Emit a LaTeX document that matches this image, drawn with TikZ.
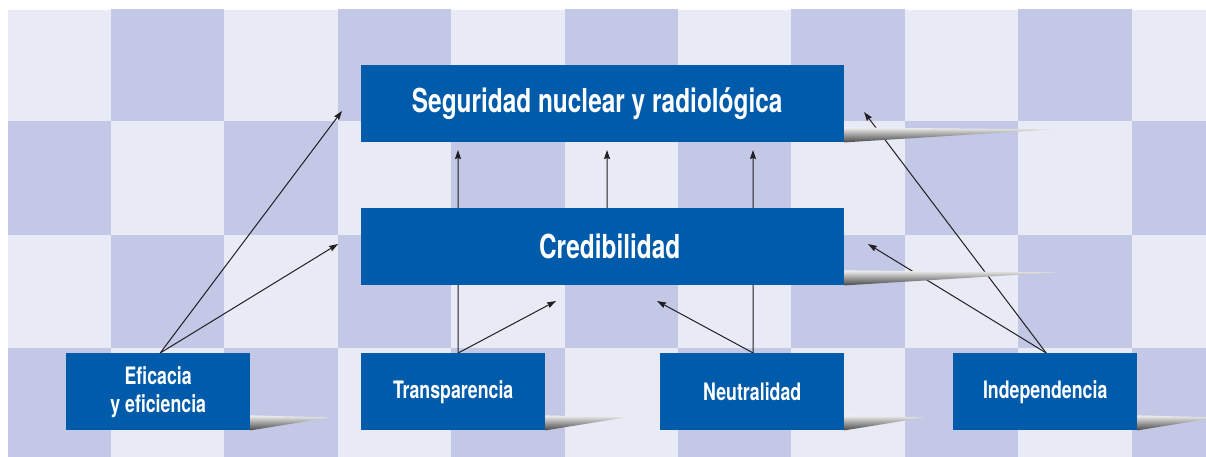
\documentclass[tikz,border=0pt]{standalone}
\usepackage{fontspec}
\setmainfont{TeX Gyre Heros}[FakeStretch=0.74]
\usetikzlibrary{arrows.meta}
\definecolor{cblue}{HTML}{005BAA}
\definecolor{cellA}{HTML}{E8EAF6}
\definecolor{cellB}{HTML}{C2C8E6}
\definecolor{lineblack}{HTML}{231F20}
\pgfdeclarelayer{board}
\pgfdeclarelayer{links}
\pgfsetlayers{board,links,main}
\newcommand\boxwedge[2]{\shade[wedge] (#1.south east) -- ++(0,-15) -- ++(#2,2) -- cycle;}
\begin{document}
\begin{tikzpicture}[x=1pt,y=-1pt,
  box/.style={fill=cblue, text=white, inner sep=0pt, anchor=north west, align=center},
  bigbox/.style={box, minimum width=483pt, minimum height=77pt, font=\fontsize{33}{38}\selectfont\bfseries},
  smallbox/.style={box, minimum width=184pt, minimum height=77pt, font=\fontsize{24}{28}\selectfont\bfseries},
  link/.style={draw=lineblack, line width=1pt, -{Stealth[length=9pt,width=6pt,inset=1pt]}},
  wedge/.style={top color=gray!12, bottom color=black!72, draw=none}]
\useasboundingbox (0,0) rectangle (1206,457);
% checkerboard
\begin{pgfonlayer}{board}
\begin{scope}
  \clip (8,10) rectangle (1206,457);
  \fill[cellA] (8,10) rectangle (1206,457);
  \foreach \i in {0,...,10} {
    \foreach \j in {0,...,3} {
      \pgfmathtruncatemacro\cellpar{mod(\i+\j,2)}
      \ifnum\cellpar=1
        \fill[cellB] ({-2.4+113.4*\i},{7.5+113.5*\j}) rectangle ({-2.4+113.4*(\i+1)},{7.5+113.5*(\j+1)});
      \fi
    }
  }
\end{scope}
\end{pgfonlayer}
% boxes
\path (361,65) node[bigbox] (top) {Seguridad nuclear y radiológica\hspace*{11pt}};
\path (361,208) node[bigbox] (cred) {\hspace*{14pt}Credibilidad};
\path (66,353) node[smallbox] (efi) {Eficacia\\y eficiencia};
\path (361,353) node[smallbox] (trans) {Transparencia};
\path (660,353) node[smallbox] (neut) {Neutralidad};
\path (953,353) node[smallbox] (indep) {Independencia};
% connector coordinates
\coordinate (efiA) at ([xshift=2pt]efi.north);
\coordinate (transA) at ([xshift=5pt]trans.north);
\coordinate (neutA) at ([xshift=1pt]neut.north);
\coordinate (indepA) at ([xshift=1pt]indep.north);
\coordinate (credA) at ([xshift=4.5pt]cred.north);
\coordinate (tipTopL) at (342,111);
\coordinate (tipTopR) at (864,112);
\coordinate (tipCredL) at (338,244);
\coordinate (tipCredR) at (868,244);
\coordinate (tipV1) at (458,150);
\coordinate (tipV2) at (607,150);
\coordinate (tipV3) at (753,150);
\coordinate (tipMidL) at (556,301);
\coordinate (tipMidR) at (657,301);
% connectors (behind boxes)
\begin{pgfonlayer}{links}
\draw[link] (efiA) -- (tipTopL);
\draw[link] (efiA) -- (tipCredL);
\draw[link] (transA) -- (tipV1);
\draw[link] (transA) -- (tipMidL);
\draw[link] (credA) -- (tipV2);
\draw[link] (neutA) -- (tipV3);
\draw[link] (neutA) -- (tipMidR);
\draw[link] (indepA) -- (tipTopR);
\draw[link] (indepA) -- (tipCredR);
\end{pgfonlayer}
% shadows
\begin{scope}
  \clip (0,0) rectangle (1206,457);
  \boxwedge{top}{209}
  \boxwedge{cred}{213}
  \boxwedge{efi}{80}
  \boxwedge{trans}{80}
  \boxwedge{neut}{80}
  \boxwedge{indep}{80}
\end{scope}
\end{tikzpicture}
\end{document}
